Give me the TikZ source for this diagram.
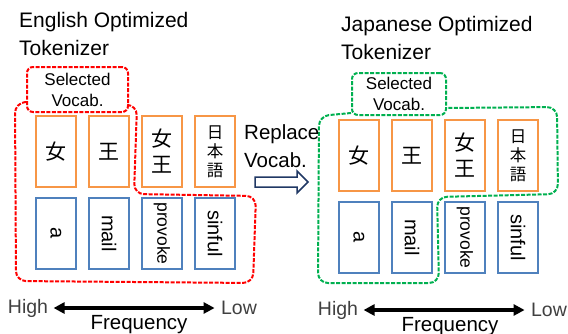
\documentclass[tikz,border=0pt]{standalone}
\usepackage{fontspec}
\setmainfont{Liberation Sans}
\newfontfamily\jpfont{Noto Sans CJK JP}
\usepackage{xcolor}
\usetikzlibrary{shapes,arrows.meta,positioning,calc}
\definecolor{tokorange}{HTML}{F79646}
\definecolor{tokblue}{HTML}{4F81BD}
\definecolor{selred}{HTML}{FF0000}
\definecolor{selgreen}{HTML}{00B050}
\definecolor{arrownavy}{HTML}{203864}
\definecolor{freqgray}{HTML}{404040}

\begin{document}
\begin{tikzpicture}[x=1pt,y=-1pt,
    title/.style={anchor=west, align=left, inner sep=0pt, font=\fontsize{21}{28}\selectfont},
    kanjibox/.style={draw=tokorange, line width=1.5pt, minimum width=40pt, minimum height=71pt,
        inner sep=0pt, align=center, font=\jpfont\fontsize{21}{26}\selectfont},
    wordbox/.style={draw=tokblue, line width=1.5pt, minimum width=71pt, minimum height=40pt,
        inner sep=0pt, rotate=-90},
    selbox/.style={rounded corners=6pt, line width=2pt, dash pattern=on 4pt off 1.5pt,
        inner sep=0pt, align=center, font=\fontsize{17}{21}\selectfont},
    seloutline/.style={rounded corners=10pt, line width=2pt, dash pattern=on 4pt off 1.5pt},
    freqlabel/.style={text=freqgray, font=\fontsize{19.5}{22}\selectfont},
    freqarrow/.style={line width=3.5pt, shorten <=2pt, shorten >=3pt,
        {Stealth[length=11pt,width=11pt,inset=0pt]}-{Stealth[length=11pt,width=11pt,inset=0pt]}}]
    \useasboundingbox (0,0) rectangle (568,333);
    % titles
    \node[title] (ltitle) at (19,34) {English Optimized\\Tokenizer};
    \node[title] (rtitle) at (341,38) {Japanese Optimized\\Tokenizer};
    % token boxes of both tokenizers, right one shifted
    \foreach \g/\gx/\gy in {l/0/0, r/303/4}
    {
        % orange row: kanji tokens
        \node[kanjibox] (\g-k1) at (56+\gx,151.5+\gy) {女};
        \node[kanjibox] (\g-k2) at (109+\gx,151.5+\gy) {王};
        \node[kanjibox] (\g-k3) at (162+\gx,151.5+\gy) {女\\王};
        \node[kanjibox, font=\jpfont\fontsize{16.5}{19}\selectfont] (\g-k4) at (215+\gx,151.5+\gy) {日\\本\\語};
        % blue row: english tokens, turned
        \foreach \w/\fs [count=\i] in {a/20,mail/20,provoke/17.5,sinful/20}
        {
            \node[wordbox, font=\fontsize{\fs}{\fs}\selectfont] (\g-w\i) at (3+53*\i+\gx,233.5+\gy) {\w};
        }
    }
    % selected vocab labels
    \node[selbox, draw=selred, minimum width=101pt, minimum height=45pt] (lsel) at (77.5,89.5) {Selected\\Vocab.};
    \node[selbox, draw=selgreen, minimum width=94pt, minimum height=42pt] (rsel) at (399,94) {Selected\\Vocab.};
    % dashed outline round the selected tokens
    \draw[seloutline, selred] ([yshift=11pt]lsel.south west) -- (15,103) -- (16,281) -- (253,283)
        -- (256,196) -- (134,194) -- (137,105) -- ([yshift=8pt]lsel.south east);
    \draw[seloutline, selgreen] ([yshift=3pt]rsel.south west) -- (319,116) -- (318,283) -- (439,283)
        -- (437,197) -- (558,194) -- (557,107) -- ([yshift=8pt]rsel.south east);
    % replace arrow in the middle
    \node[title, font=\fontsize{20.5}{28}\selectfont] (repl) at (244,146) {Replace\\Vocab.};
    \coordinate (replarrow) at (255,182);
    \draw[arrownavy, fill=white, line width=1.5pt, line join=miter]
        (replarrow) ++(0,-5) -- ++(42,0) -- ++(0,-6) -- ++(11,11) -- ++(-11,11) -- ++(0,-6) -- ++(-42,0) -- cycle;
    % frequency axis under each group
    \foreach \g/\hx/\lx/\fx/\fy in {l/28/239/139/308, r/338/549/450/310}
    {
        \node[freqlabel] (\g-high) at (\hx,\fy) {High};
        \node[freqlabel] (\g-low) at (\lx,\fy) {Low};
        \draw[freqarrow] (\g-high) -- (\g-low);
        \node[font=\fontsize{20.5}{24}\selectfont] (\g-freq) at (\fx,\fy+17) {Frequency};
    }
\end{tikzpicture}
\end{document}
